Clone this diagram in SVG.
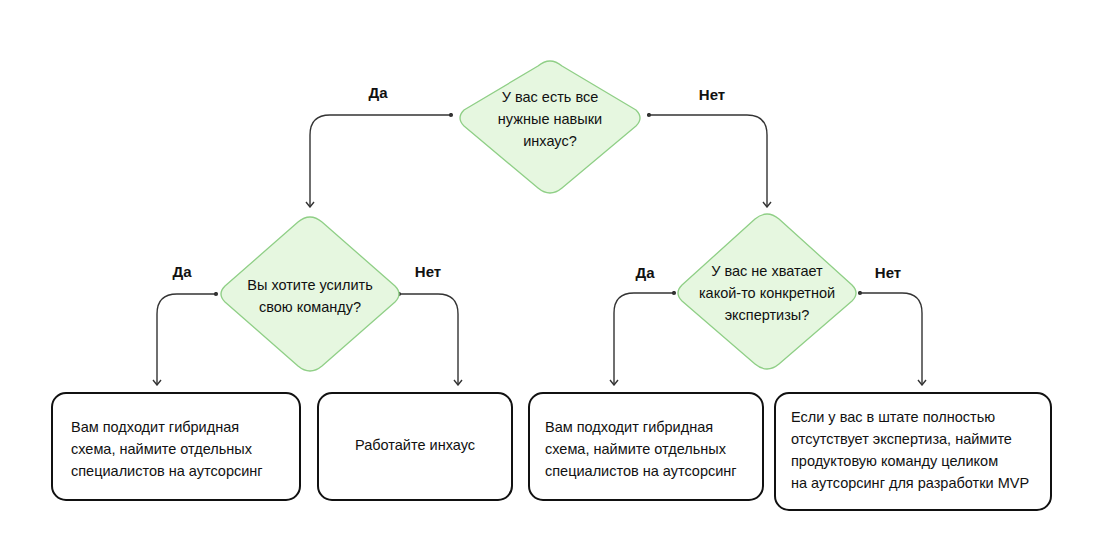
<svg xmlns="http://www.w3.org/2000/svg" width="1100" height="550" viewBox="0 0 1100 550">
<defs>
<style>
.d{fill:#e6f7e0;stroke:#8fcf86;stroke-width:1.3;stroke-linejoin:round}
.b{fill:#fff;stroke:#111;stroke-width:2}
.c{fill:none;stroke:#333;stroke-width:1.4}
text{font-family:"Liberation Sans",Arial,sans-serif;font-size:14.5px;fill:#111}
.l{font-weight:bold;font-size:15px}
</style>
<marker id="a" viewBox="0 0 10 10" refX="9" refY="5" markerWidth="10" markerHeight="10" orient="auto" markerUnits="userSpaceOnUse"><path d="M4 1 L9 5 L4 9" fill="none" stroke="#333" stroke-width="1.4"/></marker>
<marker id="o" viewBox="0 0 6 6" refX="3" refY="3" markerWidth="5" markerHeight="5" markerUnits="userSpaceOnUse"><circle cx="3" cy="3" r="2.5" fill="#333"/></marker>
</defs>
<rect width="1100" height="550" fill="#fff"/>
<g id="connectors">
<path class="c" marker-start="url(#o)" marker-end="url(#a)" d="M451 115 H330 Q310 115 310 135 V207"/>
<path class="c" marker-start="url(#o)" marker-end="url(#a)" d="M649 115 H747 Q767 115 767 135 V207"/>
<path class="c" marker-start="url(#o)" marker-end="url(#a)" d="M216 294 H177 Q157 294 157 314 V385"/>
<path class="c" marker-start="url(#o)" marker-end="url(#a)" d="M399 294 H438 Q458 294 458 314 V385"/>
<path class="c" marker-start="url(#o)" marker-end="url(#a)" d="M674 293 H634 Q614 293 614 313 V385"/>
<path class="c" marker-start="url(#o)" marker-end="url(#a)" d="M860 293 H902 Q922 293 922 313 V385"/>
<text class="l" x="378" y="98" text-anchor="middle">Да</text>
<text class="l" x="712" y="100" text-anchor="middle">Нет</text>
<text class="l" x="182" y="277" text-anchor="middle">Да</text>
<text class="l" x="428" y="277" text-anchor="middle">Нет</text>
<text class="l" x="645" y="278" text-anchor="middle">Да</text>
<text class="l" x="888" y="278" text-anchor="middle">Нет</text>
</g>
<g id="q1">
<path class="d" d="M538 66 Q550 56 562 66 L636 110 Q644 118 636 126 L562 188 Q550 198 538 188 L464 126 Q456 118 464 110 Z"/>
<text x="550" y="102" text-anchor="middle">У вас есть все</text>
<text x="550" y="124" text-anchor="middle">нужные навыки</text>
<text x="550" y="146" text-anchor="middle">инхаус?</text>
</g>
<g id="q2">
<path class="d" d="M298 222 Q310 212 322 222 L395 286 Q403 294 395 302 L322 366 Q310 376 298 366 L225 302 Q217 294 225 286 Z"/>
<text x="310" y="290" text-anchor="middle">Вы хотите усилить</text>
<text x="310" y="312" text-anchor="middle">свою команду?</text>
</g>
<g id="q3">
<path class="d" d="M755 219 Q767 209 779 219 L852 285 Q860 293 852 301 L779 364 Q767 374 755 364 L682 301 Q674 293 682 285 Z"/>
<text x="767" y="276" text-anchor="middle">У вас не хватает</text>
<text x="767" y="298" text-anchor="middle">какой-то конкретной</text>
<text x="767" y="320" text-anchor="middle">экспертизы?</text>
</g>
<g id="r1">
<rect class="b" x="52" y="393" width="248" height="107" rx="14"/>
<text x="71" y="432">Вам подходит гибридная</text>
<text x="71" y="454">схема, наймите отдельных</text>
<text x="71" y="476">специалистов на аутсорсинг</text>
</g>
<g id="r2">
<rect class="b" x="318" y="393" width="194" height="107" rx="14"/>
<text x="415" y="450" text-anchor="middle">Работайте инхаус</text>
</g>
<g id="r3">
<rect class="b" x="529" y="393" width="234" height="107" rx="14"/>
<text x="545" y="432">Вам подходит гибридная</text>
<text x="545" y="454">схема, наймите отдельных</text>
<text x="545" y="476">специалистов на аутсорсинг</text>
</g>
<g id="r4">
<rect class="b" x="775" y="393" width="276" height="117" rx="14"/>
<text x="791" y="422">Если у вас в штате полностью</text>
<text x="791" y="444">отсутствует экспертиза, наймите</text>
<text x="791" y="466">продуктовую команду целиком</text>
<text x="791" y="488">на аутсорсинг для разработки MVP</text>
</g>
</svg>
